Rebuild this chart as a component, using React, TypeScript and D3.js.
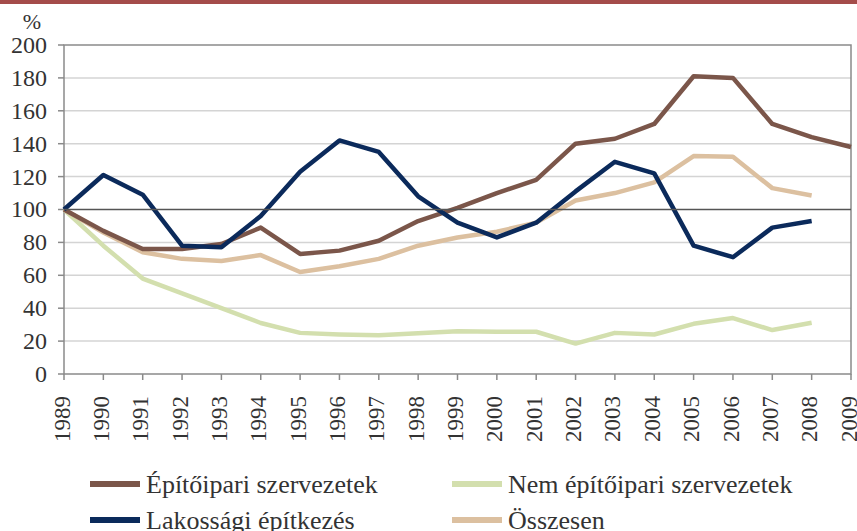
import React, { useEffect, useRef } from "react";
import * as d3 from "d3";

const years = [
  1989, 1990, 1991, 1992, 1993, 1994, 1995, 1996, 1997, 1998, 1999, 2000,
  2001, 2002, 2003, 2004, 2005, 2006, 2007, 2008, 2009,
];
const yTicks = [0, 20, 40, 60, 80, 100, 120, 140, 160, 180, 200];

const epitoipari = [
  100, 87, 76, 76, 79, 89, 73, 75, 81, 93, 101, 110, 118, 140, 143, 152, 181,
  180, 152, 144, 138,
];
const lakossagi = [
  100, 121, 109, 78, 77, 96, 123, 142, 135, 108, 92, 83, 92, 111, 129, 122, 78,
  71, 89, 93,
];
const nemEpitoipari = [
  100, 78, 58, 49, 40, 31, 25, 24, 23.5, 24.7, 26, 25.7, 25.7, 18.5, 25, 24, 30.5,
  34, 26.7, 31.2,
];
const osszesen = [
  100, 86, 74, 70, 68.7, 72.3, 62, 65.5, 70, 78, 83, 86.5, 92, 105.5, 110, 116.5,
  132.5, 132, 113, 108.5,
];

const series = [
  { name: "Építőipari szervezetek", values: epitoipari, color: "#7b564a" },
  { name: "Lakossági építkezés", values: lakossagi, color: "#0b2a5b" },
  { name: "Nem építőipari szervezetek", values: nemEpitoipari, color: "#d3dfae" },
  { name: "Összesen", values: osszesen, color: "#dcc0a0" },
];
// legend order: two columns
const legendOrder = [0, 2, 1, 3];

const W = 857;
const H = 531;
const font = "Liberation Serif";

const Chart: React.FC = () => {
  const svgRef = useRef<SVGSVGElement>(null);

  useEffect(() => {
    const svg = d3.select(svgRef.current);
    svg.selectAll("*").remove();

    const x = d3.scaleLinear().domain([1989, 2009]).range([64, 851]);
    const y = d3.scaleLinear().domain([0, 200]).range([374, 45]);

    // top bar
    svg
      .append("rect")
      .attr("x", 0)
      .attr("y", 0)
      .attr("width", W)
      .attr("height", 4)
      .attr("fill", "#a44c4a");

    // gridlines
    svg
      .append("g")
      .selectAll("line")
      .data(yTicks.filter((t) => t !== 0 && t !== 200 && t !== 100))
      .join("line")
      .attr("x1", x(1989))
      .attr("x2", x(2009))
      .attr("y1", (d) => y(d))
      .attr("y2", (d) => y(d))
      .attr("stroke", "#d4d4d4")
      .attr("stroke-width", 1.5);

    // frame
    svg
      .append("rect")
      .attr("x", x(1989))
      .attr("y", y(200))
      .attr("width", x(2009) - x(1989))
      .attr("height", y(0) - y(200))
      .attr("fill", "none")
      .attr("stroke", "#8a8a8a")
      .attr("stroke-width", 1.5);

    // y ticks
    svg
      .append("g")
      .selectAll("line")
      .data(yTicks)
      .join("line")
      .attr("x1", x(1989) - 6)
      .attr("x2", x(1989))
      .attr("y1", (d) => y(d))
      .attr("y2", (d) => y(d))
      .attr("stroke", "#8a8a8a")
      .attr("stroke-width", 1.5);

    svg
      .append("g")
      .selectAll("text")
      .data(yTicks)
      .join("text")
      .attr("font-family", font)
      .attr("font-size", 24)
      .attr("fill", "#333")
      .attr("text-anchor", "end")
      .attr("x", 47)
      .attr("y", (d) => y(d))
      .attr("dy", "0.33em")
      .text((d) => d);

    svg
      .append("text")
      .attr("x", 32)
      .attr("y", 29)
      .attr("text-anchor", "middle")
      .attr("font-family", font)
      .attr("font-size", 22)
      .attr("fill", "#333")
      .text("%");

    // x ticks
    svg
      .append("g")
      .selectAll("line")
      .data(years)
      .join("line")
      .attr("x1", (d) => x(d))
      .attr("x2", (d) => x(d))
      .attr("y1", y(0))
      .attr("y2", y(0) + 6)
      .attr("stroke", "#8a8a8a")
      .attr("stroke-width", 1.5);

    svg
      .append("g")
      .selectAll("text")
      .data(years)
      .join("text")
      .attr("font-family", font)
      .attr("font-size", 23)
      .attr("fill", "#333")
      .attr("text-anchor", "end")
      .attr("transform", (d) => `translate(${x(d) - 2},${y(0) + 22}) rotate(-90)`)
      .attr("dy", "0.33em")
      .text((d) => d);

    // lines
    const line = d3
      .line<number>()
      .x((_, i) => x(years[i]))
      .y((d) => y(d));

    svg
      .append("g")
      .attr("fill", "none")
      .attr("stroke-width", 4.5)
      .attr("stroke-linejoin", "round")
      .selectAll("path")
      .data([series[2], series[3], series[0], series[1]])
      .join("path")
      .attr("stroke", (d) => d.color)
      .attr("d", (d) => line(d.values));

    // 100 line
    svg
      .append("line")
      .attr("x1", x(1989))
      .attr("x2", x(2009))
      .attr("y1", y(100))
      .attr("y2", y(100))
      .attr("stroke", "#555")
      .attr("stroke-width", 1.5);

    // legend
    const legend = svg
      .append("g")
      .selectAll("g")
      .data(legendOrder.map((i) => series[i]))
      .join("g")
      .attr(
        "transform",
        (_, i) => `translate(${i % 2 === 0 ? 90 : 452},${484 + Math.floor(i / 2) * 36})`,
      );

    legend
      .append("rect")
      .attr("x", 0)
      .attr("y", -3)
      .attr("width", 50)
      .attr("height", 6)
      .attr("fill", (d) => d.color);

    legend
      .append("text")
      .attr("font-family", font)
      .attr("font-size", 26)
      .attr("fill", "#333")
      .attr("x", 56)
      .attr("dy", "0.33em")
      .text((d) => d.name);
  }, []);

  return (
    <svg
      ref={svgRef}
      width={W}
      height={H}
      style={{ fontFamily: '"Liberation Serif"', display: "block" }}
    ></svg>
  );
};

export default function App() {
  return (
    <div style={{ position: "absolute", left: 0, top: 0, background: "#fff" }}>
      <Chart />
    </div>
  );
}
